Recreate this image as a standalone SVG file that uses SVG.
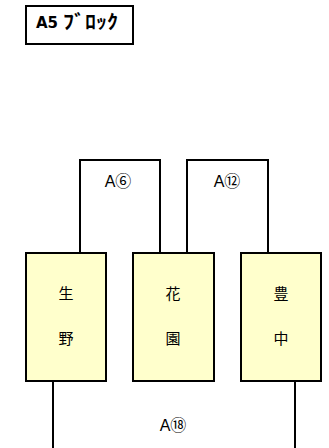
<svg xmlns="http://www.w3.org/2000/svg" width="329" height="448" viewBox="0 0 329 448">
<style>
.ln{fill:none;stroke:#000;stroke-width:2}
.nd{fill:#ffffcc;stroke:#000;stroke-width:2}
.t{font-family:"Liberation Sans","Noto Sans CJK JP",sans-serif;font-size:16px;fill:#000;text-anchor:middle}
.j{font-family:"Noto Sans CJK JP",sans-serif;font-size:15px;fill:#000;text-anchor:middle}
</style>
<rect width="329" height="448" fill="#fff"/>
<g id="title">
<rect x="26" y="6" width="107" height="38" fill="#fff" stroke="#000" stroke-width="2"/>
<text x="36" y="28" font-family="'DejaVu Sans','Noto Sans CJK JP',sans-serif" font-size="15" font-weight="bold">A5</text>
<text x="63" y="29" font-family="'Noto Sans CJK JP',sans-serif" font-size="19" font-weight="bold" textLength="55" lengthAdjust="spacingAndGlyphs">ﾌﾞﾛｯｸ</text>
</g>
<g id="connectors">
<path class="ln" d="M80,253 V160 H160 V253"/>
<path class="ln" d="M187,253 V160 H268 V253"/>
<path class="ln" d="M53,381 V448"/>
<path class="ln" d="M295,381 V448"/>
<text class="t" x="118" y="187">A⑥</text>
<text class="t" x="227" y="187">A⑫</text>
<text class="t" x="173" y="431">A⑱</text>
</g>
<g id="ikuno">
<rect class="nd" x="26" y="253" width="80" height="128"/>
<text class="j" x="66" y="299">生</text>
<text class="j" x="66" y="344">野</text>
</g>
<g id="hanazono">
<rect class="nd" x="133" y="253" width="81" height="128"/>
<text class="j" x="173" y="299">花</text>
<text class="j" x="173" y="344">園</text>
</g>
<g id="toyonaka">
<rect class="nd" x="241" y="253" width="80" height="128"/>
<text class="j" x="281" y="299">豊</text>
<text class="j" x="281" y="344">中</text>
</g>
</svg>
